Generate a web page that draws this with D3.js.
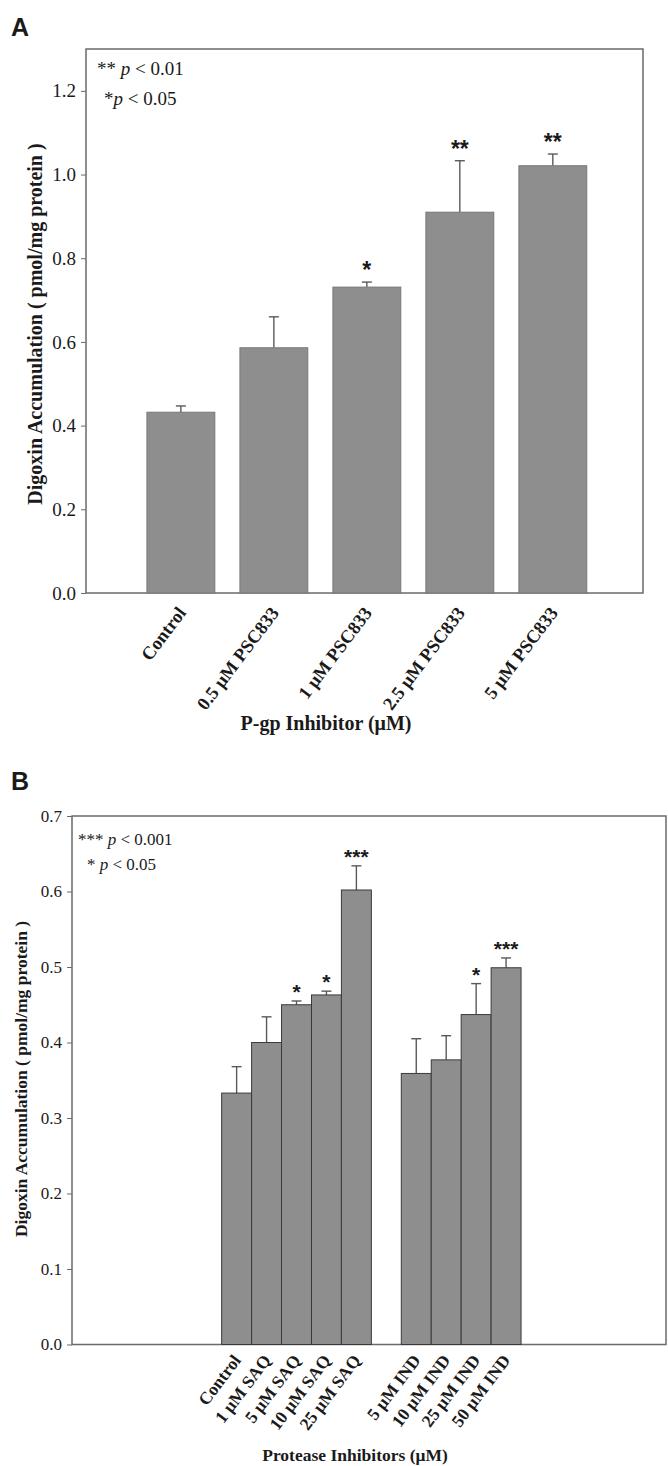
<!DOCTYPE html>
<html>
<head>
<meta charset="utf-8">
<script src="https://cdn.jsdelivr.net/npm/d3@7"></script>
<style>
  body { margin: 0; background: #fff; }
  text { font-family: "Liberation Serif", "Times New Roman", serif; fill: #1a1a1a; }
</style>
</head>
<body>
<svg width="668" height="1466"></svg>
<script>
// panel A: P-gp inhibitor PSC833
var pgpLabels = ["Control", "0.5 \u03bcM PSC833", "1 \u03bcM PSC833", "2.5 \u03bcM PSC833", "5 \u03bcM PSC833"];
var pgpMeans = [0.432, 0.586, 0.731, 0.910, 1.021];
var pgpErrors = [0.015, 0.074, 0.012, 0.123, 0.028];
var pgpStars = ["", "", "*", "**", "**"];
var pgpTicks = [0.0, 0.2, 0.4, 0.6, 0.8, 1.0, 1.2];

// panel B: protease inhibitors, saquinavir and indinavir
var saqLabels = ["Control", "1 \u03bcM SAQ", "5 \u03bcM SAQ", "10 \u03bcM SAQ", "25 \u03bcM SAQ"];
var saqMeans = [0.333, 0.400, 0.450, 0.463, 0.602];
var saqErrors = [0.035, 0.034, 0.005, 0.005, 0.032];
var saqStars = ["", "", "*", "*", "***"];
var indLabels = ["5 \u03bcM IND", "10 \u03bcM IND", "25 \u03bcM IND", "50 \u03bcM IND"];
var indMeans = [0.359, 0.377, 0.437, 0.499];
var indErrors = [0.046, 0.032, 0.041, 0.013];
var indStars = ["", "", "*", "***"];
var protTicks = [0.0, 0.1, 0.2, 0.3, 0.4, 0.5, 0.6, 0.7];

var svg = d3.select("svg");
var barFill = "#8e8e8e";

function drawPanel(p) {
    var g = svg.append("g");
    var y = d3.scaleLinear().domain([0, p.yMax]).range([p.bottom, p.top]);
    var x = d3.scaleBand().domain(p.domain).range([p.left, p.right])
        .paddingInner(p.padIn).paddingOuter(p.padOut).align(p.align);

    var rows = p.labels.map(function (l, i) {
        return {label: l, mean: p.means[i], err: p.errors[i], star: p.stars[i]};
    });

    // frame
    g.append("rect")
        .attr("x", p.left).attr("y", p.top)
        .attr("width", p.right - p.left).attr("height", p.bottom - p.top)
        .attr("fill", "none").attr("stroke", "#6a6a6a").attr("stroke-width", 1.5);

    // error bars (upper only)
    var eb = g.selectAll(".err").data(rows).enter().append("g").attr("class", "err")
        .attr("stroke", "#5a5a5a").attr("stroke-width", 1.4);
    eb.append("line")
        .attr("x1", function (d) { return x(d.label) + x.bandwidth() / 2; })
        .attr("x2", function (d) { return x(d.label) + x.bandwidth() / 2; })
        .attr("y1", function (d) { return y(d.mean); })
        .attr("y2", function (d) { return y(d.mean + d.err); });
    eb.append("line")
        .attr("x1", function (d) { return x(d.label) + x.bandwidth() / 2 - 5; })
        .attr("x2", function (d) { return x(d.label) + x.bandwidth() / 2 + 5; })
        .attr("y1", function (d) { return y(d.mean + d.err); })
        .attr("y2", function (d) { return y(d.mean + d.err); });

    g.selectAll(".bar").data(rows).enter().append("rect").attr("class", "bar")
        .attr("x", function (d) { return x(d.label); })
        .attr("y", function (d) { return y(d.mean); })
        .attr("width", x.bandwidth())
        .attr("height", function (d) { return y(0) - y(d.mean); })
        .attr("fill", barFill).attr("stroke", p.barStroke).attr("stroke-width", 1);

    g.selectAll(".star").data(rows).enter().append("text").attr("class", "star")
        .attr("x", function (d) { return x(d.label) + x.bandwidth() / 2; })
        .attr("y", function (d) { return y(d.mean + d.err) + p.starDy; })
        .attr("text-anchor", "middle")
        .style("font-family", "'Liberation Sans', Arial, sans-serif")
        .style("font-weight", "bold").style("font-size", p.starSize + "px")
        .text(function (d) { return d.star; });

    // y axis
    var ya = g.append("g").attr("transform", "translate(" + p.left + ",0)")
        .call(d3.axisLeft(y).tickValues(p.ticks).tickFormat(d3.format(".1f")).tickSize(5).tickPadding(5));
    ya.select(".domain").remove();
    ya.selectAll("line").attr("stroke", "#6a6a6a");
    ya.selectAll("text").style("font-size", p.tickSize + "px").style("font-family", "'Liberation Serif', serif").attr("fill", "#222");

    // category labels
    g.selectAll(".xl").data(rows).enter().append("text").attr("class", "xl")
        .attr("transform", function (d) {
            return "translate(" + (x(d.label) + x.bandwidth() / 2 + p.xlDx) + "," + (p.bottom + p.xlDy) + ") rotate(" + p.angle + ")";
        })
        .attr("text-anchor", "end")
        .style("font-weight", "bold").style("font-size", p.xlSize + "px")
        .text(function (d) { return d.label; });

    g.append("text")
        .attr("transform", "translate(" + p.yTitleX + "," + p.yTitleY + ") rotate(-90)")
        .attr("text-anchor", "middle")
        .style("font-weight", "bold").style("font-size", p.yTitleSize + "px")
        .text("Digoxin Accumulation ( pmol/mg protein )");

    g.append("text")
        .attr("x", p.xTitleX).attr("y", p.xTitleY)
        .attr("text-anchor", "middle")
        .style("font-weight", "bold").style("font-size", p.xTitleSize + "px")
        .text(p.xTitle);

    p.legend.forEach(function (l) {
        var t = g.append("text").attr("x", l.x).attr("y", l.y).style("font-size", p.legendSize + "px");
        t.append("tspan").text(l.stars);
        t.append("tspan").style("font-style", "italic").text("p");
        t.append("tspan").text(" < " + l.p);
    });

    svg.append("text").attr("x", 11).attr("y", p.letterY)
        .style("font-family", "'Liberation Sans', Arial, sans-serif")
        .style("font-weight", "bold").style("font-size", "25px")
        .text(p.letter);
}

drawPanel({
    letter: "A", letterY: 36,
    left: 86, right: 643, top: 49, bottom: 593, yMax: 1.3,
    domain: pgpLabels, labels: pgpLabels, means: pgpMeans, errors: pgpErrors, stars: pgpStars,
    ticks: pgpTicks, padIn: 0.27, padOut: 0.63, align: 0.52,
    barStroke: "#777", starDy: -4, starSize: 23, tickSize: 19,
    xlSize: 18.5, xlDx: 6, xlDy: 20, angle: -53,
    yTitleX: 42, yTitleY: 324, yTitleSize: 20,
    xTitle: "P-gp Inhibitor (\u03bcM)", xTitleX: 326, xTitleY: 730, xTitleSize: 20,
    legendSize: 19,
    legend: [{stars: "** ", p: "0.01", x: 97, y: 75}, {stars: "*", p: "0.05", x: 104, y: 105}]
});

drawPanel({
    letter: "B", letterY: 790,
    left: 72, right: 666, top: 816, bottom: 1344.5, yMax: 0.7,
    domain: saqLabels.concat([" "], indLabels),
    labels: saqLabels.concat(indLabels), means: saqMeans.concat(indMeans),
    errors: saqErrors.concat(indErrors), stars: saqStars.concat(indStars),
    ticks: protTicks, padIn: 0, padOut: 4.92, align: 0.508,
    barStroke: "#3a3a3a", starDy: -2, starSize: 21, tickSize: 17,
    xlSize: 17.5, xlDx: 5, xlDy: 16, angle: -53,
    yTitleX: 27, yTitleY: 1079, yTitleSize: 17.5,
    xTitle: "Protease Inhibitors (\u03bcM)", xTitleX: 355, xTitleY: 1461, xTitleSize: 17.5,
    legendSize: 17,
    legend: [{stars: "*** ", p: "0.001", x: 78, y: 845}, {stars: "* ", p: "0.05", x: 87, y: 870}]
});
</script>
</body>
</html>
